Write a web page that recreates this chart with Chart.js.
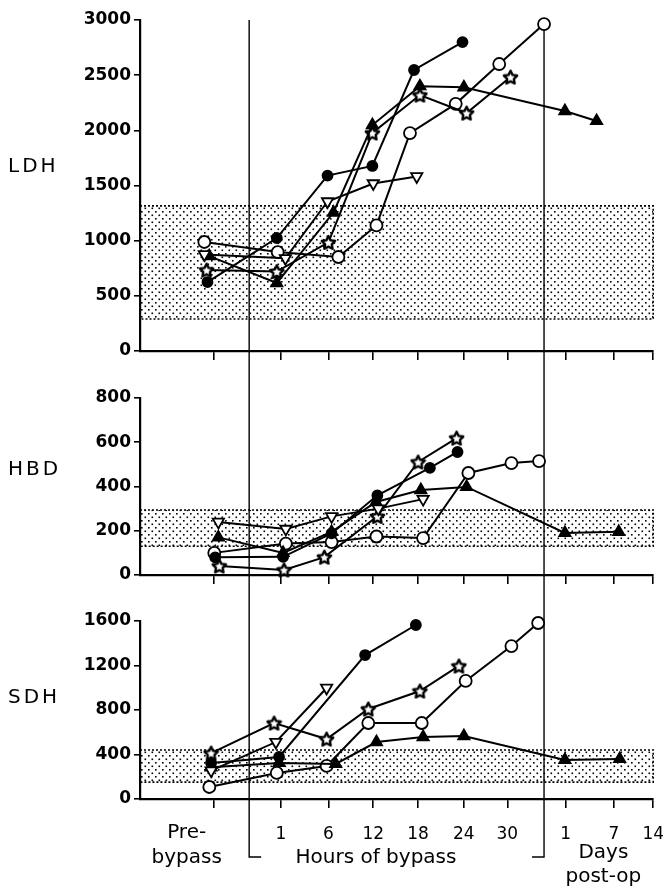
<!DOCTYPE html>
<html>
<head>
<meta charset="utf-8">
<script src="https://cdn.jsdelivr.net/npm/chart.js@4.4.0/dist/chart.umd.min.js"></script>
<style>
  html, body { margin: 0; padding: 0; background: #fff; }
  #wrap { position: relative; width: 663px; height: 888px; }
  canvas { position: absolute; left: 0; }
</style>
</head>
<body>
<div id="wrap">
  <canvas id="ldh" width="663" height="372" style="top:0"></canvas>
  <canvas id="hbd" width="663" height="228" style="top:372px"></canvas>
  <canvas id="sdh" width="663" height="288" style="top:600px"></canvas>
</div>
<script>
'use strict';

// x axis in "slot" units (1 slot = one sampling step of the bypass)
const tickPos = [-0.49, 1, 2.05, 3.04, 4.03, 5.04, 6.0, 7.29, 8.35, 9.22];
const tickLabels = ['', '1', '6', '12', '18', '24', '30', '1', '7', '14'];
const xMin = -2.11;
const xMax = 9.22;
const separators = [0.30, 6.81];

// normal ranges (dotted bands)
const ldhNormal = [290, 1315];
const hbdNormal = [130, 294];
const sdhNormal = [152, 440];

// LDH
const ldhDotX = [-0.62, 0.91, 2.03, 3.02, 3.94, 5.01];
const ldhDot = [625, 1024, 1590, 1677, 2547, 2800];
const ldhRingX = [-0.69, 0.93, 2.27, 3.11, 3.85, 4.86, 5.82, 6.81];
const ldhRing = [988, 897, 852, 1138, 1975, 2240, 2601, 2963];
const ldhTriX = [-0.58, 0.91, 2.16, 3.02, 4.07, 5.04, 7.27, 7.97];
const ldhTri = [860, 616, 1255, 2048, 2400, 2390, 2175, 2085];
const ldhStarX = [-0.64, 0.91, 2.05, 3.02, 4.07, 5.1, 6.07];
const ldhStar = [734, 720, 985, 1976, 2320, 2157, 2483];
const ldhVeeX = [-0.69, 1.1, 2.03, 3.04, 4.0];
const ldhVee = [875, 840, 1355, 1518, 1582];

// HBD
const hbdDotX = [-0.45, 1.05, 2.12, 3.13, 4.29, 4.9];
const hbdDot = [80, 82, 188, 360, 484, 556];
const hbdRingX = [-0.47, 1.11, 2.12, 3.11, 4.14, 5.14, 6.09, 6.7];
const hbdRing = [100, 142, 149, 174, 167, 461, 506, 515];
const hbdTriX = [-0.38, 1.05, 2.12, 3.1, 4.09, 5.1, 7.27, 8.46];
const hbdTri = [170, 100, 195, 330, 384, 398, 190, 195];
const hbdStarX = [-0.36, 1.07, 1.96, 3.13, 4.03, 4.88];
const hbdStar = [41, 23, 81, 265, 511, 619];
const hbdVeeX = [-0.38, 1.11, 2.12, 3.15, 4.14];
const hbdVee = [240, 208, 265, 300, 343];

// SDH
const sdhDotX = [-0.54, 0.96, 2.86, 3.98];
const sdhDot = [324, 378, 1294, 1564];
const sdhRingX = [-0.58, 0.91, 2.01, 2.93, 4.11, 5.08, 6.09, 6.68];
const sdhRing = [108, 234, 297, 683, 683, 1061, 1375, 1582];
const sdhTriX = [-0.54, 0.96, 2.21, 3.11, 4.14, 5.04, 7.27, 8.48];
const sdhTri = [285, 324, 315, 512, 557, 566, 351, 360];
const sdhStarX = [-0.54, 0.85, 2.01, 2.93, 4.07, 4.93];
const sdhStar = [413, 683, 539, 809, 971, 1196];
const sdhVeeX = [-0.54, 0.89, 2.01];
const sdhVee = [255, 512, 998];

const FONT = '"DejaVu Sans", sans-serif';

function starImage(size) {
  const c = document.createElement('canvas');
  c.width = size;
  c.height = size;
  const g = c.getContext('2d');
  const cx = size / 2, cy = size / 2 + 0.7, R = size / 2 - 1.5, r = R * 0.5;
  g.beginPath();
  for (let i = 0; i < 10; i++) {
    const a = -Math.PI / 2 + i * Math.PI / 5;
    const rad = i % 2 ? r : R;
    g.lineTo(cx + rad * Math.cos(a), cy + rad * Math.sin(a));
  }
  g.closePath();
  g.fillStyle = '#fff';
  g.fill();
  g.lineWidth = 2.4;
  g.lineJoin = 'round';
  g.strokeStyle = '#000';
  g.stroke();
  return c;
}
const starPt = starImage(17);

function dotPattern(ctx) {
  const p = document.createElement('canvas');
  p.width = 7;
  p.height = 7;
  const g = p.getContext('2d');
  g.fillStyle = '#000';
  g.fillRect(1, 1, 1.6, 1.6);
  g.fillRect(4.5, 4.5, 1.6, 1.6);
  return ctx.createPattern(p, 'repeat');
}

const markerStyles = {
  dot: { pointStyle: 'circle', pointRadius: 5, pointBackgroundColor: '#000' },
  ring: { pointStyle: 'circle', pointRadius: 6, pointBackgroundColor: '#fff' },
  tri: { pointStyle: 'triangle', pointRadius: 6.5, pointBackgroundColor: '#000' },
  vee: { pointStyle: 'triangle', pointRotation: 180, pointRadius: 6.5, pointBackgroundColor: '#fff' },
  star: { pointStyle: starPt, pointRadius: 8 }
};

function series(xs, ys, kind) {
  return Object.assign({
    data: xs.map((x, i) => ({ x: x, y: ys[i] })),
    borderColor: '#000',
    borderWidth: 2,
    pointBorderColor: '#000',
    pointBorderWidth: 1.8,
    fill: false,
    clip: false,
    tension: 0
  }, markerStyles[kind]);
}

const panelPlugin = {
  id: 'panel',
  beforeDatasetsDraw(chart, args, opts) {
    const { ctx, chartArea } = chart;
    const x = chart.scales.x, y = chart.scales.y;
    const top = y.getPixelForValue(opts.band[1]);
    const bot = y.getPixelForValue(opts.band[0]);
    ctx.save();
    ctx.fillStyle = dotPattern(ctx);
    ctx.fillRect(x.left, top, x.right - x.left, bot - top);
    ctx.strokeStyle = '#000';
    ctx.setLineDash([2, 2]);
    ctx.lineWidth = 1.6;
    ctx.strokeRect(x.left, top, x.right - x.left, bot - top);
    ctx.setLineDash([]);
    ctx.lineWidth = 1.4;
    const yTop = opts.first ? chartArea.top : 0;
    const yBot = opts.last ? chartArea.bottom + 58 : chart.height;
    separators.forEach((s, i) => {
      const px = x.getPixelForValue(s);
      ctx.beginPath();
      ctx.moveTo(px, yTop);
      ctx.lineTo(px, yBot);
      if (opts.last) ctx.lineTo(px + (i === 0 ? 12 : -12), yBot);
      ctx.stroke();
    });
    ctx.restore();
  },
  afterDraw(chart, args, opts) {
    const { ctx, chartArea } = chart;
    const x = chart.scales.x, y = chart.scales.y;
    ctx.save();
    ctx.fillStyle = '#000';
    ctx.textBaseline = 'middle';
    ctx.font = '20px ' + FONT;
    ctx.letterSpacing = '3px';
    ctx.textAlign = 'left';
    ctx.fillText(opts.name, 8, y.getPixelForValue(opts.nameAt));
    if (opts.last) {
      const b = chartArea.bottom;
      ctx.letterSpacing = '0px';
      ctx.font = '20px ' + FONT;
      ctx.textAlign = 'center';
      const pre = x.getPixelForValue(-1.08);
      ctx.fillText('Pre-', pre, b + 34);
      ctx.fillText('bypass', pre, b + 59);
      ctx.fillText('Hours of bypass', x.getPixelForValue(3.1), b + 59);
      const days = x.getPixelForValue(8.12);
      ctx.fillText('Days', days, b + 54);
      ctx.fillText('post-op', days, b + 78);
    }
    ctx.restore();
  }
};

function makePanel(id, opts) {
  const ctx = document.getElementById(id).getContext('2d');
  return new Chart(ctx, {
    type: 'line',
    data: { datasets: opts.datasets },
    options: {
      responsive: false,
      animation: false,
      layout: { padding: { top: opts.padTop, right: 6, left: 0, bottom: 0 } },
      plugins: {
        legend: { display: false },
        tooltip: { enabled: false },
        panel: { band: opts.band, name: opts.name, nameAt: opts.nameAt, first: opts.first, last: opts.last }
      },
      scales: {
        x: {
          type: 'linear',
          min: xMin,
          max: xMax,
          afterBuildTicks: (s) => { s.ticks = tickPos.map(v => ({ value: v })); },
          afterFit: (s) => { s.height = opts.xHeight; s.paddingLeft = 0; s.paddingRight = 0; },
          grid: { display: true, drawOnChartArea: false, drawTicks: true, tickLength: 9, color: '#000', lineWidth: 1.6 },
          border: { display: true, color: '#000', width: 2.2 },
          ticks: {
            display: !!opts.last,
            autoSkip: false,
            maxRotation: 0,
            padding: 16,
            color: '#000',
            font: { family: FONT, size: 17 },
            callback: (v, i) => tickLabels[i]
          }
        },
        y: {
          min: 0,
          max: opts.yMax,
          afterFit: (s) => { s.width = 140; },
          grid: { display: true, drawOnChartArea: false, drawTicks: true, tickLength: 6, color: '#000', lineWidth: 1.6 },
          border: { display: true, color: '#000', width: 2.2 },
          ticks: {
            stepSize: opts.yStep,
            padding: 3,
            color: '#000',
            font: { family: FONT, size: 17, weight: 'bold' },
            callback: (v) => String(v)
          }
        }
      }
    },
    plugins: [panelPlugin]
  });
}

makePanel('ldh', {
  datasets: [
    series(ldhVeeX, ldhVee, 'vee'),
    series(ldhTriX, ldhTri, 'tri'),
    series(ldhStarX, ldhStar, 'star'),
    series(ldhDotX, ldhDot, 'dot'),
    series(ldhRingX, ldhRing, 'ring')
  ],
  band: ldhNormal, name: 'LDH', nameAt: 1670,
  yMax: 3000, yStep: 500, padTop: 20, xHeight: 21, first: true
});

makePanel('hbd', {
  datasets: [
    series(hbdVeeX, hbdVee, 'vee'),
    series(hbdTriX, hbdTri, 'tri'),
    series(hbdStarX, hbdStar, 'star'),
    series(hbdDotX, hbdDot, 'dot'),
    series(hbdRingX, hbdRing, 'ring')
  ],
  band: hbdNormal, name: 'HBD', nameAt: 475,
  yMax: 800, yStep: 200, padTop: 26, xHeight: 25
});

makePanel('sdh', {
  datasets: [
    series(sdhVeeX, sdhVee, 'vee'),
    series(sdhTriX, sdhTri, 'tri'),
    series(sdhStarX, sdhStar, 'star'),
    series(sdhDotX, sdhDot, 'dot'),
    series(sdhRingX, sdhRing, 'ring')
  ],
  band: sdhNormal, name: 'SDH', nameAt: 910,
  yMax: 1600, yStep: 400, padTop: 21, xHeight: 89, last: true
});
</script>
</body>
</html>
